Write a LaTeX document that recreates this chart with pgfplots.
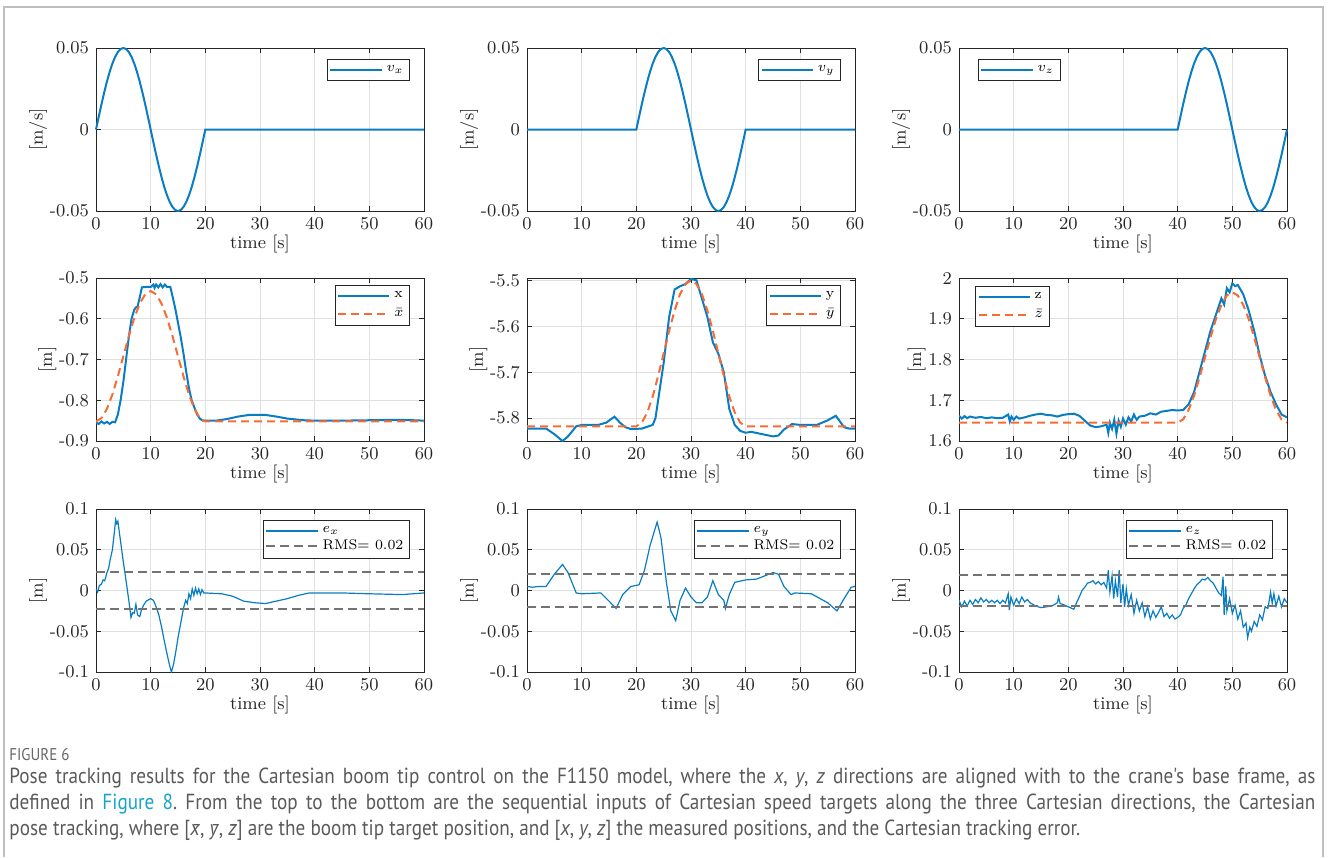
\documentclass[border=0pt]{standalone}
\usepackage{pgfplots}
\pgfplotsset{compat=1.18}
\usepackage{fontspec}
\newfontfamily\capfont[FakeStretch=0.88]{PT Sans}
\definecolor{mblue}{HTML}{0A7DC2}
\definecolor{morange}{HTML}{F86B36}
\definecolor{mframe}{HTML}{262626}
\definecolor{capgray}{HTML}{5A5A5A}
\definecolor{caplink}{HTML}{1AA3C8}
% italic letter with a macron set above it
\newcommand\mbar[1]{\ooalign{\textit{#1}\cr\hidewidth\kern0.14em\raisebox{-0.1em}{\char"AF}\hidewidth\cr}}

\pgfplotsset{panel/.style={
  scale only axis, width=164pt, height=81.5pt, anchor=south west,
  xmin=0, xmax=60, xtick={0,10,...,60}, scaled y ticks=false,
  grid=major, major grid style={black!12, line width=0.4pt},
  axis line style={mframe, line width=0.45pt},
  tick style={mframe, line width=0.4pt}, tick align=inside, major tick length=2.6pt,
  ticklabel style={font=\small, text=mframe},
  label style={font=\small, text=mframe},
  xlabel={time [s]}, xlabel style={yshift=4pt}, ylabel style={yshift=-5.5pt},
  legend cell align=left,
  legend style={font=\fontsize{7}{8}\selectfont, draw=mframe, line width=0.45pt, fill=white,
    inner sep=1pt, row sep=-2pt, cells={anchor=west}},
  legend image code/.code={\draw[##1] (0cm,0cm) -- (0.9cm,0cm);},
}}
\pgfplotsset{
  speed/.style={panel, ymin=-0.05, ymax=0.05, ytick={-0.05,0,0.05},
    yticklabels={-0.05,0,0.05}, ylabel={[m/s]}, clip=false,
    legend style={at={(0.957,0.933)}, anchor=north east}},
  err/.style={panel, ymin=-0.1, ymax=0.1, ytick={-0.1,-0.05,0,0.05,0.1},
    yticklabels={-0.1,-0.05,0,0.05,0.1}, ylabel={[m]},
    legend style={at={(0.957,0.932)}, anchor=north east}},
  meas/.style={mblue, line width=1pt},
  targ/.style={morange, line width=1pt, dash pattern=on 4pt off 2.5pt},
  errl/.style={mblue, line width=0.6pt},
  rms/.style={black!55, line width=0.9pt, dash pattern=on 4.5pt off 2.5pt},
}

\begin{document}
\begin{tikzpicture}
\path (0,0) rectangle (664pt,-428.5pt);
\draw[black!25, line width=0.6pt] (2pt,-428.5pt) -- (2pt,-3.5pt) -- (661.5pt,-3.5pt) -- (661.5pt,-428.5pt);

% ---------- row 1: speed targets
\begin{axis}[speed, at={(48pt,-105.5pt)}]
\addplot[meas] coordinates {(0,0)(0.5,0.00782)(1,0.01545)(1.5,0.0227)(2,0.02939)(2.5,0.03536)(3,0.04045)(3.5,0.04455)(4,0.04755)(4.5,0.04938)(5,0.05)(5.5,0.04938)(6,0.04755)(6.5,0.04455)(7,0.04045)(7.5,0.03536)(8,0.02939)(8.5,0.0227)(9,0.01545)(9.5,0.00782)(10,0)(10.5,-0.00782)(11,-0.01545)(11.5,-0.0227)(12,-0.02939)(12.5,-0.03536)(13,-0.04045)(13.5,-0.04455)(14,-0.04755)(14.5,-0.04938)(15,-0.05)(15.5,-0.04938)(16,-0.04755)(16.5,-0.04455)(17,-0.04045)(17.5,-0.03536)(18,-0.02939)(18.5,-0.0227)(19,-0.01545)(19.5,-0.00782)(20,0)(60,0)};
\addlegendentry{$v_x$}
\end{axis}

\begin{axis}[speed, at={(263.5pt,-105.5pt)}]
\addplot[meas] coordinates {(0,0)(20,0)(20.5,0.00782)(21,0.01545)(21.5,0.0227)(22,0.02939)(22.5,0.03536)(23,0.04045)(23.5,0.04455)(24,0.04755)(24.5,0.04938)(25,0.05)(25.5,0.04938)(26,0.04755)(26.5,0.04455)(27,0.04045)(27.5,0.03536)(28,0.02939)(28.5,0.0227)(29,0.01545)(29.5,0.00782)(30,0)(30.5,-0.00782)(31,-0.01545)(31.5,-0.0227)(32,-0.02939)(32.5,-0.03536)(33,-0.04045)(33.5,-0.04455)(34,-0.04755)(34.5,-0.04938)(35,-0.05)(35.5,-0.04938)(36,-0.04755)(36.5,-0.04455)(37,-0.04045)(37.5,-0.03536)(38,-0.02939)(38.5,-0.0227)(39,-0.01545)(39.5,-0.00782)(40,0)(60,0)};
\addlegendentry{$v_y$}
\end{axis}

\begin{axis}[speed, at={(479.5pt,-105.5pt)}, legend style={at={(0.058,0.933)}, anchor=north west}]
\addplot[meas] coordinates {(0,0)(40,0)(40.5,0.00782)(41,0.01545)(41.5,0.0227)(42,0.02939)(42.5,0.03536)(43,0.04045)(43.5,0.04455)(44,0.04755)(44.5,0.04938)(45,0.05)(45.5,0.04938)(46,0.04755)(46.5,0.04455)(47,0.04045)(47.5,0.03536)(48,0.02939)(48.5,0.0227)(49,0.01545)(49.5,0.00782)(50,0)(50.5,-0.00782)(51,-0.01545)(51.5,-0.0227)(52,-0.02939)(52.5,-0.03536)(53,-0.04045)(53.5,-0.04455)(54,-0.04755)(54.5,-0.04938)(55,-0.05)(55.5,-0.04938)(56,-0.04755)(56.5,-0.04455)(57,-0.04045)(57.5,-0.03536)(58,-0.02939)(58.5,-0.0227)(59,-0.01545)(59.5,-0.00782)(60,0)};
\addlegendentry{$v_z$}
\end{axis}

% ---------- row 2: pose tracking
\begin{axis}[panel, at={(48pt,-220.5pt)}, ymin=-0.9, ymax=-0.5,
  ytick={-0.9,-0.8,-0.7,-0.6,-0.5}, yticklabels={-0.9,-0.8,-0.7,-0.6,-0.5}, ylabel={[m]},
  legend style={at={(0.957,0.957)}, anchor=north east, row sep=0pt}]
\addplot[meas] coordinates {(0,-0.855)(0.5,-0.858)(1,-0.852)(1.5,-0.857)(2,-0.853)(2.5,-0.858)(3,-0.853)(3.5,-0.854)(4,-0.835)(4.5,-0.8)(5,-0.755)(5.5,-0.7)(6,-0.645)(6.5,-0.6)(7,-0.578)(7.3,-0.572)(7.6,-0.57)(8,-0.548)(8.4,-0.523)(9,-0.522)(10,-0.522)(10.5,-0.516)(10.7,-0.524)(11,-0.516)(11.4,-0.523)(11.8,-0.515)(12.2,-0.523)(12.6,-0.516)(13,-0.522)(13.6,-0.522)(14,-0.545)(14.5,-0.575)(15,-0.61)(15.5,-0.645)(16,-0.685)(16.5,-0.73)(17,-0.77)(17.5,-0.8)(18,-0.818)(18.5,-0.835)(19,-0.845)(19.5,-0.85)(20,-0.85)(22,-0.85)(24,-0.846)(26,-0.84)(28,-0.836)(31,-0.836)(33,-0.84)(35,-0.845)(38,-0.849)(40,-0.85)(45,-0.85)(50,-0.849)(55,-0.848)(58,-0.849)(60,-0.85)};
\addlegendentry{x}
\addplot[targ] coordinates {(0,-0.852)(1,-0.844)(2,-0.821)(3,-0.786)(4,-0.741)(5,-0.692)(6,-0.643)(7,-0.598)(8,-0.563)(9,-0.540)(10,-0.532)(11,-0.540)(12,-0.563)(13,-0.598)(14,-0.643)(15,-0.692)(16,-0.741)(17,-0.786)(18,-0.821)(19,-0.844)(20,-0.852)(60,-0.852)};
\addlegendentry{$\bar{x}$}
\end{axis}

\begin{axis}[panel, at={(263.5pt,-220.5pt)}, ymin=-5.85, ymax=-5.495,
  ytick={-5.8,-5.7,-5.6,-5.5}, yticklabels={-5.8,-5.7,-5.6,-5.5}, ylabel={[m]},
  legend style={at={(0.957,0.957)}, anchor=north east, row sep=0pt}]
\addplot[meas] coordinates {(0,-5.823)(3.5,-5.823)(5,-5.835)(6.5,-5.85)(7.5,-5.84)(9,-5.818)(10,-5.815)(13,-5.815)(14.5,-5.81)(16,-5.797)(17,-5.81)(18,-5.82)(19,-5.824)(21,-5.823)(23,-5.815)(23.5,-5.80)(24,-5.76)(25,-5.68)(26,-5.58)(27,-5.52)(28,-5.513)(29,-5.508)(30,-5.497)(31,-5.50)(32,-5.54)(33,-5.58)(34,-5.635)(35,-5.66)(36,-5.70)(37,-5.78)(38,-5.815)(39,-5.828)(40,-5.832)(41,-5.83)(43,-5.835)(45,-5.84)(46,-5.838)(47,-5.825)(48.5,-5.813)(50,-5.815)(53,-5.815)(55,-5.805)(56.5,-5.795)(58,-5.82)(59,-5.823)(60,-5.823)};
\addlegendentry{y}
\addplot[targ] coordinates {(0,-5.818)(20,-5.818)(21,-5.810)(22,-5.788)(23,-5.753)(24,-5.708)(25,-5.659)(26,-5.610)(27,-5.566)(28,-5.530)(29,-5.508)(30,-5.500)(31,-5.508)(32,-5.530)(33,-5.566)(34,-5.610)(35,-5.659)(36,-5.708)(37,-5.753)(38,-5.788)(39,-5.810)(40,-5.818)(60,-5.818)};
\addlegendentry{$\bar{y}$}
\end{axis}

\begin{axis}[panel, at={(479.5pt,-220.5pt)}, ymin=1.6, ymax=2,
  ytick={1.6,1.7,1.8,1.9,2}, yticklabels={1.6,1.7,1.8,1.9,2}, ylabel={[m]},
  legend style={at={(0.049,0.951)}, anchor=north west, row sep=0pt}]
\addplot[meas] coordinates {(0,1.662)(0.5,1.655)(1,1.661)(1.5,1.656)(2,1.66)(3,1.657)(4,1.659)(5,1.656)(6,1.658)(7,1.656)(8,1.657)(9,1.665)(9.3,1.648)(9.6,1.66)(10,1.652)(10.5,1.66)(11,1.655)(12,1.658)(13,1.662)(14,1.665)(15,1.667)(16,1.664)(17,1.663)(18,1.66)(19,1.664)(20,1.666)(21,1.667)(22,1.662)(23,1.65)(24,1.638)(25,1.634)(26,1.636)(27,1.64)(27.3,1.62)(27.6,1.645)(28,1.63)(28.4,1.652)(28.8,1.618)(29.2,1.65)(29.6,1.635)(30,1.655)(30.5,1.64)(31,1.658)(31.5,1.648)(32,1.665)(32.5,1.652)(33,1.66)(34,1.662)(35,1.668)(36,1.665)(37,1.672)(38,1.674)(39,1.676)(40,1.675)(41,1.676)(42,1.69)(43,1.72)(44,1.77)(45,1.82)(46,1.87)(47,1.91)(48,1.95)(48.5,1.935)(49,1.975)(49.5,1.965)(50,1.987)(50.5,1.98)(51,1.983)(52,1.96)(53,1.92)(54,1.87)(55,1.81)(56,1.76)(57,1.72)(58,1.69)(59,1.665)(60,1.658)};
\addlegendentry{z}
\addplot[targ] coordinates {(0,1.645)(40,1.645)(41,1.653)(42,1.676)(43,1.711)(44,1.756)(45,1.805)(46,1.854)(47,1.899)(48,1.934)(49,1.957)(50,1.965)(51,1.957)(52,1.934)(53,1.899)(54,1.854)(55,1.805)(56,1.756)(57,1.711)(58,1.676)(59,1.653)(60,1.645)};
\addlegendentry{$\bar{z}$}
\end{axis}

% ---------- row 3: tracking error
\begin{axis}[err, at={(48pt,-336pt)}]
\addplot[errl] coordinates {(0,0.002)(0.3,-0.002)(0.6,0.006)(1,0.008)(1.3,0.013)(1.6,0.012)(2,0.022)(2.3,0.027)(2.6,0.038)(3,0.05)(3.3,0.068)(3.6,0.087)(3.8,0.082)(4,0.085)(4.3,0.07)(4.6,0.055)(5,0.035)(5.5,0.012)(6,-0.012)(6.4,-0.033)(6.7,-0.027)(7,-0.028)(7.3,-0.017)(7.6,-0.03)(8,-0.032)(8.3,-0.024)(8.7,-0.018)(9.2,-0.013)(10,-0.01)(10.5,-0.012)(11,-0.02)(11.5,-0.03)(12,-0.045)(12.5,-0.062)(13,-0.078)(13.5,-0.093)(13.8,-0.1)(14.2,-0.09)(14.6,-0.075)(15,-0.058)(15.5,-0.04)(16,-0.022)(16.4,-0.012)(16.7,-0.016)(17,-0.004)(17.3,-0.01)(17.6,0.002)(17.9,-0.006)(18.2,0.003)(18.5,-0.004)(18.8,0.002)(19.1,-0.005)(19.4,0.001)(19.7,-0.003)(20,-0.003)(23,-0.004)(25,-0.007)(27,-0.013)(29,-0.015)(31,-0.016)(33,-0.013)(35,-0.01)(37,-0.006)(39,-0.003)(45,-0.003)(50,-0.004)(56,-0.005)(58,-0.004)(60,-0.003)};
\addlegendentry{$e_x$}
\addplot[rms] coordinates {(0,0.023)(60,0.023)};
\addlegendentry{RMS= 0.02}
\addplot[rms, forget plot] coordinates {(0,-0.023)(60,-0.023)};
\end{axis}

\begin{axis}[err, at={(263.5pt,-336pt)}]
\addplot[errl] coordinates {(0,0.005)(1,0.004)(2,0.005)(3.5,0.005)(5,0.02)(6.5,0.032)(7.5,0.022)(9,-0.003)(10,-0.004)(13.5,-0.003)(15,-0.013)(16.3,-0.022)(17.5,-0.005)(19,0.005)(20.5,0.007)(21.5,0.025)(22.5,0.055)(23.8,0.084)(24.5,0.065)(25.5,0.01)(26.3,-0.025)(27.2,-0.037)(28,-0.012)(29,0.003)(30,-0.008)(31,-0.015)(32,-0.015)(33,-0.008)(34,0.012)(35,-0.005)(36,-0.012)(36.3,-0.022)(37,-0.005)(38,0.01)(40,0.013)(42,0.014)(45,0.022)(46,0.02)(47,0.005)(48.3,-0.005)(49,-0.003)(52,-0.004)(55,-0.015)(56.7,-0.025)(58,-0.01)(59.3,0.004)(60,0.005)};
\addlegendentry{$e_y$}
\addplot[rms] coordinates {(0,0.02)(60,0.02)};
\addlegendentry{RMS= 0.02}
\addplot[rms, forget plot] coordinates {(0,-0.02)(60,-0.02)};
\end{axis}

\begin{axis}[err, at={(479.5pt,-336pt)}]
\addplot[errl] coordinates {(0,-0.012)(0.5,-0.02)(1,-0.013)(1.5,-0.019)(2,-0.012)(2.5,-0.017)(3,-0.011)(3.5,-0.015)(4,-0.009)(4.5,-0.014)(5,-0.011)(5.5,-0.015)(6,-0.012)(6.5,-0.015)(7,-0.012)(7.5,-0.016)(8,-0.012)(8.5,-0.015)(9,-0.004)(9.2,-0.024)(9.5,-0.008)(10,-0.018)(10.5,-0.01)(11,-0.016)(11.5,-0.008)(12,-0.014)(12.5,-0.011)(13,-0.015)(13.5,-0.017)(14,-0.019)(15,-0.021)(16,-0.02)(17,-0.019)(18,-0.015)(18.2,-0.008)(18.5,-0.016)(19,-0.017)(20,-0.02)(21,-0.023)(21.5,-0.015)(22,-0.008)(22.5,0.0)(23,0.004)(23.5,0.009)(24,0.01)(24.5,0.012)(25,0.008)(25.5,0.011)(26,0.007)(26.5,0.01)(27,0.003)(27.3,0.025)(27.6,-0.002)(28,0.018)(28.3,-0.01)(28.6,0.012)(29,-0.008)(29.3,0.025)(29.6,-0.015)(30,0.008)(30.3,-0.02)(30.6,0.002)(31,-0.018)(31.5,-0.005)(32,-0.028)(32.5,-0.012)(33,-0.025)(33.5,-0.015)(34,-0.032)(34.5,-0.02)(35,-0.035)(35.5,-0.025)(36,-0.033)(36.5,-0.027)(37,-0.02)(37.5,-0.032)(38,-0.028)(38.5,-0.034)(39,-0.03)(39.5,-0.035)(40,-0.033)(40.5,-0.03)(41,-0.022)(41.5,-0.018)(42,-0.01)(42.5,-0.004)(43,0.002)(43.5,0.007)(44,0.01)(44.5,0.014)(45,0.013)(45.5,0.016)(46,0.012)(46.5,0.009)(47,0.003)(47.5,-0.003)(48,-0.006)(48.3,0.017)(48.5,-0.03)(48.8,0.005)(49,-0.025)(49.5,-0.01)(50,-0.028)(50.5,-0.018)(51,-0.035)(51.5,-0.025)(52,-0.045)(52.5,-0.04)(52.8,-0.058)(53.2,-0.045)(53.5,-0.05)(54,-0.038)(54.5,-0.044)(55,-0.03)(55.5,-0.036)(56,-0.02)(56.5,-0.022)(57,-0.002)(57.3,-0.016)(57.6,-0.004)(58,-0.019)(58.5,-0.007)(59,-0.02)(59.5,-0.01)(60,-0.015)};
\addlegendentry{$e_z$}
\addplot[rms] coordinates {(0,0.019)(60,0.019)};
\addlegendentry{RMS= 0.02}
\addplot[rms, forget plot] coordinates {(0,-0.019)(60,-0.019)};
\end{axis}

% ---------- caption
\node[anchor=base west, inner sep=0, text=black!60] at (4.5pt,-380pt)
  {\capfont\fontsize{8.5}{10}\selectfont FIGURE 6};
\node[anchor=north west, inner sep=0, text width=653pt, align=justify, text=capgray] at (4.5pt,-384pt)
  {\capfont\fontsize{10.9}{13}\selectfont\hyphenpenalty=10000\frenchspacing
  Pose tracking results for the Cartesian boom tip control on the F1150 model, where the \textit{x}, \textit{y}, \textit{z} directions are aligned with to the crane's base frame, as\linebreak
  defined in {\color{caplink}Figure 8}. From the top to the bottom are the sequential inputs of Cartesian speed targets along the three Cartesian directions, the Cartesian\linebreak
  pose tracking, where [\mbar{x}, \mbar{y}, \mbar{z}] are the boom tip target position, and [\textit{x}, \textit{y}, \textit{z}] the measured positions, and the Cartesian tracking error.\par};
\end{tikzpicture}
\end{document}
